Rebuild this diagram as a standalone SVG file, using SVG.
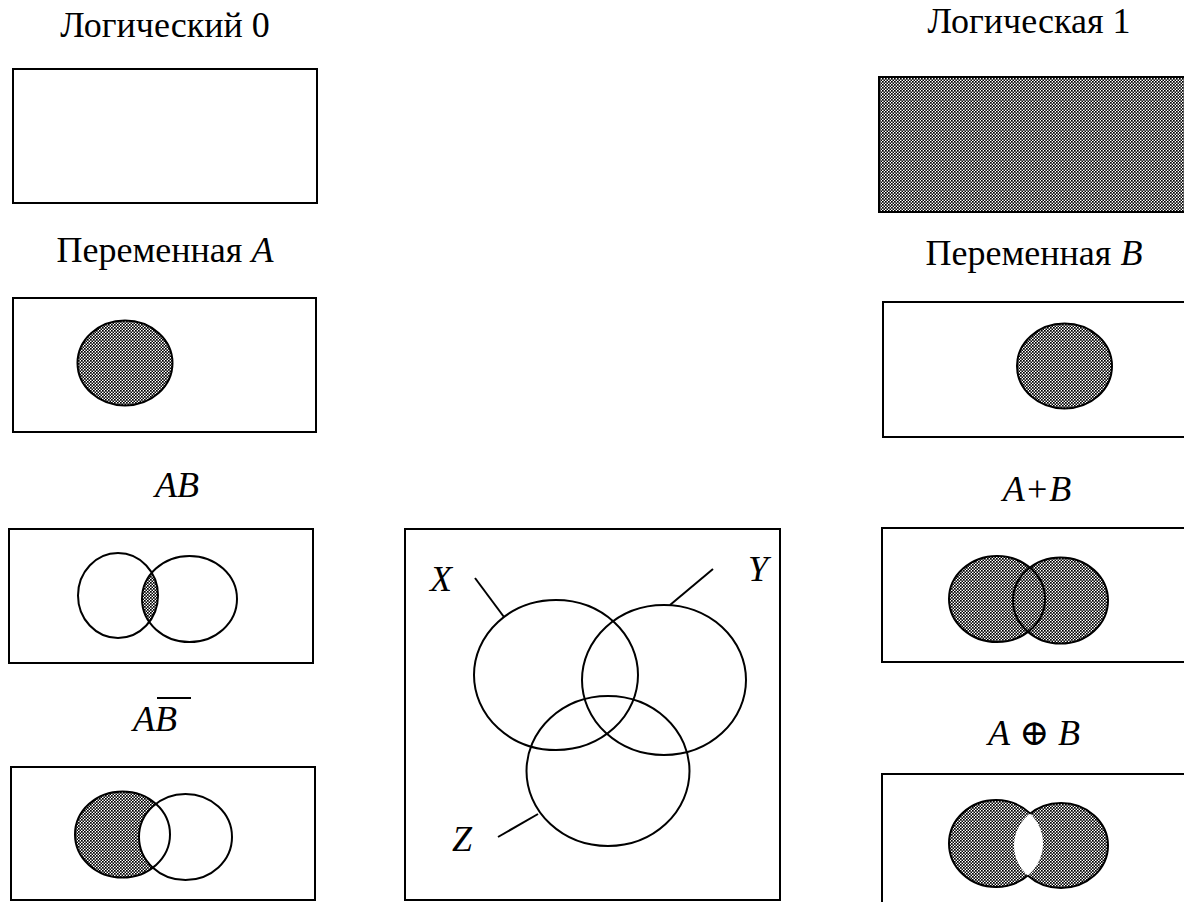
<svg xmlns="http://www.w3.org/2000/svg" width="1184" height="902" viewBox="0 0 1184 902">
<style>
text{font-size:36px;fill:#000;text-anchor:middle}
.i{font-style:italic}
.box{fill:#fff;stroke:#000;stroke-width:2}
.o{fill:none;stroke:#000;stroke-width:2}
.p{fill:url(#chk)}
.w{fill:#fff}
.ln{stroke:#000;stroke-width:2;fill:none}
</style>
<defs>
<pattern id="chk" patternUnits="userSpaceOnUse" width="3" height="3">
<rect width="3" height="3" fill="#fff"/>
<rect x="0" y="0" width="1.7" height="1.7" fill="#000"/>
<rect x="1.5" y="1.5" width="1.7" height="1.7" fill="#000"/>
</pattern>
<clipPath id="clipA5"><ellipse cx="118" cy="595.5" rx="40" ry="42.5"/></clipPath>
<clipPath id="clipA8"><ellipse cx="996" cy="843.5" rx="47" ry="43.5"/></clipPath>
<mask id="outB8" maskUnits="userSpaceOnUse" x="0" y="0" width="1184" height="902">
<rect width="1184" height="902" fill="#fff"/>
<ellipse cx="1061" cy="845.5" rx="47" ry="42.5" fill="#000"/>
</mask>
<mask id="outA8" maskUnits="userSpaceOnUse" x="0" y="0" width="1184" height="902">
<rect width="1184" height="902" fill="#fff"/>
<ellipse cx="996" cy="843.5" rx="47" ry="43.5" fill="#000"/>
</mask>
</defs>

<g id="logic0">
<text x="165" y="37" font-family="Liberation Serif">Логический 0</text>
<rect class="box" x="13" y="69" width="304" height="134"/>
</g>

<g id="logic1">
<text x="1029" y="33" font-family="Liberation Serif">Логическая 1</text>
<rect x="879" y="77" width="310" height="135" fill="url(#chk)" stroke="#000" stroke-width="2"/>
</g>

<g id="varA">
<text x="165" y="262" font-family="Liberation Serif">Переменная <tspan class="i">A</tspan></text>
<rect class="box" x="13" y="298" width="303" height="134"/>
<ellipse class="p" cx="125" cy="363" rx="47.5" ry="42.5"/>
<ellipse class="o" cx="125" cy="363" rx="47.5" ry="42.5"/>
</g>

<g id="varB">
<text x="1034" y="265" font-family="Liberation Serif">Переменная <tspan class="i">B</tspan></text>
<rect class="box" x="883" y="302" width="310" height="135"/>
<ellipse class="p" cx="1064.5" cy="366" rx="47.5" ry="42.5"/>
<ellipse class="o" cx="1064.5" cy="366" rx="47.5" ry="42.5"/>
</g>

<g id="andAB">
<text class="i" x="177" y="497" font-family="Liberation Serif">AB</text>
<rect class="box" x="9" y="529" width="304" height="134"/>
<ellipse class="p" cx="189.5" cy="599" rx="47.5" ry="43" clip-path="url(#clipA5)"/>
<ellipse class="o" cx="118" cy="595.5" rx="40" ry="42.5"/>
<ellipse class="o" cx="189.5" cy="599" rx="47.5" ry="43"/>
</g>

<g id="orAB">
<text class="i" x="1037" y="501" font-family="Liberation Serif">A+B</text>
<rect class="box" x="882" y="528" width="310" height="134"/>
<ellipse class="p" cx="997" cy="599" rx="48" ry="43"/>
<ellipse class="p" cx="1060.5" cy="600.5" rx="47.5" ry="43"/>
<ellipse class="o" cx="997" cy="599" rx="48" ry="43"/>
<ellipse class="o" cx="1060.5" cy="600.5" rx="47.5" ry="43"/>
</g>

<g id="andAnotB">
<text class="i" x="155" y="731" font-family="Liberation Serif">AB</text>
<line class="ln" x1="157" y1="698" x2="191" y2="698"/>
<rect class="box" x="11" y="767" width="304" height="133"/>
<ellipse class="p" cx="122.5" cy="834.5" rx="47.5" ry="43"/>
<ellipse class="w" cx="185.5" cy="837" rx="46.5" ry="43"/>
<ellipse class="o" cx="122.5" cy="834.5" rx="47.5" ry="43"/>
<ellipse class="o" cx="185.5" cy="837" rx="46.5" ry="43"/>
</g>

<g id="xorAB">
<text x="1034" y="745" font-family="Liberation Serif, DejaVu Serif, serif"><tspan class="i">A</tspan> ⊕ <tspan class="i">B</tspan></text>
<rect class="box" x="882" y="774" width="310" height="140"/>
<ellipse class="p" cx="996" cy="843.5" rx="47" ry="43.5"/>
<ellipse class="p" cx="1061" cy="845.5" rx="47" ry="42.5"/>
<ellipse class="w" cx="1061" cy="845.5" rx="47" ry="42.5" clip-path="url(#clipA8)"/>
<ellipse class="o" cx="996" cy="843.5" rx="47" ry="43.5" mask="url(#outB8)"/>
<ellipse class="o" cx="1061" cy="845.5" rx="47" ry="42.5" mask="url(#outA8)"/>
</g>

<g id="xyz">
<rect class="box" x="405" y="529" width="375" height="371"/>
<ellipse class="o" cx="556" cy="675" rx="82" ry="75"/>
<ellipse class="o" cx="664" cy="680" rx="82" ry="75"/>
<ellipse class="o" cx="608" cy="771" rx="81.5" ry="75"/>
<text class="i" x="441" y="591" font-family="Liberation Serif">X</text>
<text class="i" x="758" y="581" font-family="Liberation Serif">Y</text>
<text class="i" x="462" y="851" font-family="Liberation Serif">Z</text>
</g>

<g id="connectors">
<line class="ln" x1="475" y1="578" x2="504" y2="617"/>
<line class="ln" x1="713" y1="569" x2="670" y2="605"/>
<line class="ln" x1="498" y1="837" x2="538" y2="814"/>
</g>
</svg>
